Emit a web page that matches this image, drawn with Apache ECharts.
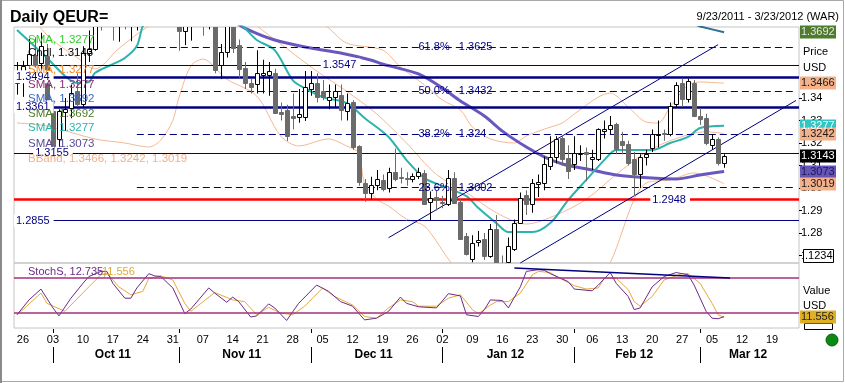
<!DOCTYPE html>
<html><head><meta charset="utf-8">
<script src="https://cdn.jsdelivr.net/npm/echarts@6/dist/echarts.min.js"></script>
<style>html,body{margin:0;padding:0;background:#fff}#c{width:845px;height:383px}</style>
</head><body><div id="c"></div>
<script>
const dates = [
'2011-09-23',
'2011-09-26','2011-09-27','2011-09-28','2011-09-29','2011-09-30',
'2011-10-03','2011-10-04','2011-10-05','2011-10-06','2011-10-07',
'2011-10-10','2011-10-11','2011-10-12','2011-10-13','2011-10-14',
'2011-10-17','2011-10-18','2011-10-19','2011-10-20','2011-10-21',
'2011-10-24','2011-10-25','2011-10-26','2011-10-27','2011-10-28',
'2011-10-31','2011-11-01','2011-11-02','2011-11-03','2011-11-04',
'2011-11-07','2011-11-08','2011-11-09','2011-11-10','2011-11-11',
'2011-11-14','2011-11-15','2011-11-16','2011-11-17','2011-11-18',
'2011-11-21','2011-11-22','2011-11-23','2011-11-24','2011-11-25',
'2011-11-28','2011-11-29','2011-11-30','2011-12-01','2011-12-02',
'2011-12-05','2011-12-06','2011-12-07','2011-12-08','2011-12-09',
'2011-12-12','2011-12-13','2011-12-14','2011-12-15','2011-12-16',
'2011-12-19','2011-12-20','2011-12-21','2011-12-22','2011-12-23',
'2011-12-26','2011-12-27','2011-12-28','2011-12-29','2011-12-30',
'2012-01-02','2012-01-03','2012-01-04','2012-01-05','2012-01-06',
'2012-01-09','2012-01-10','2012-01-11','2012-01-12','2012-01-13',
'2012-01-16','2012-01-17','2012-01-18','2012-01-19','2012-01-20',
'2012-01-23','2012-01-24','2012-01-25','2012-01-26','2012-01-27',
'2012-01-30','2012-01-31','2012-02-01','2012-02-02','2012-02-03',
'2012-02-06','2012-02-07','2012-02-08','2012-02-09','2012-02-10',
'2012-02-13','2012-02-14','2012-02-15','2012-02-16','2012-02-17',
'2012-02-20','2012-02-21','2012-02-22','2012-02-23','2012-02-24',
'2012-02-27','2012-02-28','2012-02-29','2012-03-01','2012-03-02',
'2012-03-05','2012-03-06','2012-03-07','2012-03-08','2012-03-09',
'2012-03-12','2012-03-13','2012-03-14','2012-03-15','2012-03-16',
'2012-03-19','2012-03-20','2012-03-21','2012-03-22','2012-03-23'
];

const opens = [1.3465,1.3512,1.3547,1.3592,1.3557,1.3587,1.3342,1.3218,1.3340,1.3357,
1.3431,1.3373,1.3601,1.3620,1.3796,1.3765,1.3875,1.3738,1.3766,1.3720,
1.3777,1.3894,1.3931,1.3904,1.3906,1.4164,1.4140,1.3852,1.3700,1.3755,
1.3811,1.3788,1.3764,1.3817,1.3547,1.3604,1.3752,1.3634,1.3535,1.3468,
1.3462,1.3502,1.3502,1.3512,1.3339,1.3347,1.3318,1.3316,1.3316,1.3440,
1.3466,1.3433,1.3390,1.3406,1.3413,1.3344,1.3384,1.3187,1.3024,1.2979,
1.3013,1.3036,1.2999,1.3073,1.3048,1.3046,1.3042,1.3052,1.3068,1.2938,
1.2960,1.2940,1.2929,1.3046,1.2938,1.2787,1.2685,1.2760,1.2773,1.2698,
1.2818,1.2668,1.2670,1.2729,1.2846,1.2968,1.2929,1.3020,1.3024,1.3100,
1.3140,1.3224,1.3132,1.3107,1.3150,1.3158,1.3130,1.3130,1.3255,1.3261,
1.3284,1.3207,1.3196,1.3129,1.3062,1.3136,1.3179,1.3240,1.3244,1.3239,
1.3372,1.3465,1.3397,1.3465,1.3322,1.3313,1.3190,1.3216,1.3110];

const highs = [1.3560,1.3565,1.3662,1.3670,1.3690,1.3640,1.3390,1.3350,1.3400,1.3460,
1.3510,1.3630,1.3700,1.3845,1.3810,1.3890,1.3915,1.3820,1.3865,1.3800,
1.3905,1.3955,1.3960,1.3965,1.4245,1.4200,1.4190,1.3870,1.3800,1.3870,
1.3850,1.3800,1.3850,1.3850,1.3640,1.3780,1.3760,1.3660,1.3560,1.3487,
1.3612,1.3570,1.3560,1.3530,1.3380,1.3370,1.3420,1.3440,1.3520,1.3520,
1.3510,1.3480,1.3460,1.3460,1.3460,1.3420,1.3390,1.3190,1.3040,1.3050,
1.3080,1.3060,1.3090,1.3175,1.3090,1.3070,1.3065,1.3090,1.3080,1.2985,
1.2990,1.2965,1.3080,1.3070,1.2950,1.2800,1.2790,1.2809,1.2800,1.2840,
1.2880,1.2700,1.2780,1.2860,1.2980,1.2990,1.3040,1.3060,1.3140,1.3230,
1.3230,1.3235,1.3190,1.3230,1.3190,1.3180,1.3170,1.3265,1.3300,1.3320,
1.3290,1.3250,1.3210,1.3160,1.3150,1.3170,1.3260,1.3300,1.3260,1.3380,
1.3470,1.3486,1.3486,1.3480,1.3355,1.3330,1.3240,1.3225,1.3150];

const lows = [1.3415,1.3405,1.3530,1.3535,1.3520,1.3365,1.3160,1.3146,1.3255,1.3310,
1.3360,1.3360,1.3560,1.3610,1.3700,1.3735,1.3655,1.3650,1.3705,1.3652,
1.3700,1.3850,1.3837,1.3817,1.3900,1.4082,1.3844,1.3610,1.3635,1.3655,
1.3740,1.3677,1.3705,1.3510,1.3484,1.3580,1.3600,1.3490,1.3440,1.3420,
1.3420,1.3420,1.3410,1.3330,1.3300,1.3209,1.3260,1.3290,1.3298,1.3410,
1.3380,1.3390,1.3350,1.3360,1.3300,1.3300,1.3170,1.3010,1.2939,1.2950,
1.2990,1.2985,1.2980,1.3030,1.3020,1.3010,1.3025,1.3040,1.2925,1.2858,
1.2900,1.2910,1.2920,1.2930,1.2770,1.2700,1.2670,1.2740,1.2680,1.2690,
1.2624,1.2625,1.2660,1.2720,1.2840,1.2880,1.2890,1.2960,1.2990,1.3080,
1.3110,1.3100,1.3040,1.3080,1.3120,1.3030,1.3080,1.3120,1.3220,1.3240,
1.3150,1.3150,1.3100,1.2964,1.3000,1.3100,1.3160,1.3180,1.3210,1.3230,
1.3360,1.3360,1.3380,1.3315,1.3280,1.3190,1.3170,1.3100,1.3090];

const closes = [1.3500,1.3542,1.3596,1.3548,1.3631,1.3373,1.3173,1.3342,1.3350,1.3424,
1.3373,1.3601,1.3620,1.3796,1.3765,1.3875,1.3738,1.3766,1.3720,1.3777,
1.3894,1.3931,1.3904,1.3906,1.4164,1.4140,1.3852,1.3700,1.3755,1.3811,
1.3788,1.3764,1.3817,1.3524,1.3604,1.3752,1.3624,1.3530,1.3468,1.3448,
1.3510,1.3510,1.3520,1.3332,1.3329,1.3231,1.3310,1.3329,1.3449,1.3467,
1.3404,1.3405,1.3405,1.3432,1.3347,1.3378,1.3184,1.3028,1.2976,1.3013,
1.3040,1.2995,1.3073,1.3039,1.3044,1.3040,1.3052,1.3070,1.2929,1.2955,
1.2948,1.2935,1.3046,1.2935,1.2773,1.2707,1.2757,1.2768,1.2698,1.2818,
1.2660,1.2666,1.2742,1.2846,1.2957,1.2929,1.3024,1.3028,1.3107,1.3140,
1.3216,1.3128,1.3076,1.3157,1.3157,1.3150,1.3137,1.3261,1.3264,1.3280,
1.3173,1.3192,1.3111,1.3062,1.3136,1.3151,1.3240,1.3242,1.3238,1.3364,
1.3456,1.3397,1.3474,1.3320,1.3307,1.3199,1.3216,1.3110,1.3143];

// moving averages: [day index, price]
const smaTeal = [[0,1.3702],[5,1.3578],[8,1.3498],[10,1.3467],[12,1.3471],[13,1.3511],[16,1.3551],[18,1.3578],[20,1.3631],[21,1.3720],[23,1.3800],[27,1.3870],[32,1.3850],[36,1.3760],[38,1.3711],[40,1.3658],[43,1.3613],[46,1.3480],[48,1.3444],[51,1.3404],[55,1.3378],[58,1.3311],[62,1.3227],[65,1.3124],[68,1.3044],[71,1.3009],[75,1.2964],[77,1.2911],[80,1.2844],[82,1.2804],[86,1.2804],[89,1.2844],[92,1.2947],[95,1.3036],[98,1.3124],[100,1.3169],[103,1.3169],[106,1.3169],[109,1.3200],[112,1.3227],[114,1.3267],[118,1.3277]];
const smaPurple = [[0,1.4050],[15,1.3950],[30,1.3850],[36,1.3745],[38,1.3711],[43,1.3658],[49,1.3622],[54,1.3600],[59,1.3569],[61,1.3551],[67,1.3507],[71,1.3444],[74,1.3387],[78,1.3320],[81,1.3253],[85,1.3182],[88,1.3138],[91,1.3107],[96,1.3080],[100,1.3058],[106,1.3044],[110,1.3040],[114,1.3058],[118,1.3073]];
const smaLong = [[112,1.3740],[114,1.3718],[116,1.3705],[118,1.3692]];
const bbUpper = [[0,1.4200],[20,1.4000],[35,1.4000],[45,1.3850],[52,1.3711],[55,1.3644],[61,1.3613],[64,1.3538],[68,1.3458],[71,1.3391],[74,1.3347],[76,1.3271],[79,1.3218],[83,1.3200],[85,1.3231],[88,1.3262],[91,1.3289],[93,1.3329],[97,1.3404],[99,1.3422],[102,1.3360],[105,1.3293],[107,1.3289],[109,1.3360],[112,1.3458],[114,1.3471],[118,1.3466]];
const bbMiddle = [[0,1.3850],[5,1.3680],[10,1.3580],[13,1.3529],[17,1.3620],[22,1.3720],[30,1.3830],[38,1.3760],[41,1.3700],[45,1.3620],[50,1.3520],[55,1.3430],[60,1.3330],[65,1.3200],[70,1.3060],[75,1.2980],[80,1.2890],[85,1.2840],[90,1.2880],[95,1.2950],[100,1.3060],[105,1.3160],[110,1.3220],[115,1.3250],[118,1.3242]];
const bbLower = [[0,1.3289],[5,1.3276],[13,1.3218],[18,1.3200],[22,1.3182],[24,1.3213],[26,1.3300],[27,1.3400],[29,1.3542],[31,1.3573],[35,1.3484],[40,1.3409],[44,1.3231],[47,1.3187],[52,1.3218],[55,1.3187],[57,1.3156],[58,1.3022],[60,1.2951],[62,1.2920],[65,1.2862],[68,1.2831],[72,1.2684],[76,1.2550],[85,1.2500],[95,1.2500],[99,1.2667],[103,1.2951],[105,1.3022],[109,1.3036],[113,1.3067],[118,1.3019]];

// stochastics: [day index, value]
const stochK = [[0,16],[2,42],[4,61],[6,28],[7,14],[9,45],[11,71],[12,83],[14,92],[15,92],[16,71],[18,45],[19,45],[20,63],[22,88],[23,84],[24,83],[26,63],[28,18],[29,26],[32,63],[33,54],[35,38],[36,47],[37,39],[39,12],[40,14],[42,35],[43,28],[45,6],[47,36],[50,68],[52,57],[54,39],[56,31],[58,7],[60,10],[62,22],[64,47],[65,36],[67,30],[70,28],[72,53],[74,49],[75,16],[77,13],[78,25],[79,42],[81,41],[82,28],[84,65],[85,92],[87,95],[88,94],[89,88],[92,74],[93,61],[96,58],[97,68],[99,90],[100,71],[102,48],[103,25],[104,28],[106,65],[108,83],[110,90],[112,86],[113,68],[115,22],[116,10],[117,9],[118,12.735]];
const stochD = [[0,16],[1,25],[4,54],[5,36],[8,22],[9,33],[12,65],[14,86],[15,89],[17,65],[19,51],[21,57],[22,80],[24,84],[26,77],[28,36],[29,22],[33,55],[36,42],[38,39],[40,16],[42,29],[44,19],[46,16],[48,31],[51,63],[53,48],[56,33],[58,13],[60,10],[62,28],[64,42],[66,39],[67,31],[70,31],[72,45],[74,51],[76,25],[77,18],[79,33],[80,39],[82,39],[84,54],[86,86],[87,92],[89,90],[90,83],[93,67],[95,61],[97,63],[98,80],[100,80],[102,60],[103,39],[104,31],[106,48],[108,77],[111,88],[112,88],[114,71],[116,36],[117,16],[118,11.556]];
const stochLevels = [80, 20];
const stochTrend = [[83,98],[119,80.5]];

// levels
const solidLevels = [1.3547, 1.3494, 1.3361, 1.3155, 1.2855];
const redLevel = 1.2948;
const fibLevels = [1.3625, 1.3432, 1.324, 1.3002];
const fibNames = ['61.8%', '50.0%', '38.2%', '23.6%'];
const channelUpper = [[62,1.2779],[117,1.3637]];
const channelLower = [[84,1.2667],[130,1.3389]];
const priceTicks = [1.27,1.28,1.29,1.30,1.31,1.32,1.33,1.34];
const priceTags = [1.3692, 1.3466, 1.3277, 1.3242, 1.3143, 1.3073, 1.3019];
const stochTag = 11.556;
const legendItems = ['SMA, 1.3277','Cndl, 1.3143','SMA, 1.3277','SMA, 1.3277','SMA, 1.3692','SMA, 1.3692','SMA, 1.3277','SMA, 1.3073','BBand, 1.3466, 1.3242, 1.3019'];

const FONT = 'Liberation Sans, Arial, sans-serif';
const NAVY = '#000080';
const xy = arr => arr.map(p => [dates[p[0]], p[1]]);

const thick = {1.3494:2.5, 1.3361:2.5};
const mlData = [];
solidLevels.forEach(v => mlData.push({yAxis:v, lineStyle:{color:NAVY, width: thick[v]||1, type:'solid'}}));
mlData.push({yAxis:redLevel, lineStyle:{color:'#ff0000', width:2.5, type:'solid'}});
fibLevels.forEach(v => mlData.push([{coord:[dates[20], v], lineStyle:{color:NAVY, width:1, type:[7,4]}},{coord:[dates[130], v]}]));
[channelUpper, channelLower].forEach(c => mlData.push([{coord:[dates[c[0][0]], c[0][1]], lineStyle:{color:NAVY, width:1, type:'solid'}},{coord:[dates[c[1][0]], c[1][1]]}]));

const chart = echarts.init(document.getElementById('c'));
const isMon = v => new Date(v+'T00:00:00Z').getUTCDay() === 1;

function renderCandle(params, api){
  const i = api.value(0), o = api.value(1), c = api.value(2), l = api.value(3), h = api.value(4);
  const pO = api.coord([i,o]), pC = api.coord([i,c]), pH = api.coord([i,h]), pL = api.coord([i,l]);
  const x = Math.round(pO[0]) + 0.5;
  const up = c >= o;
  const top = Math.round(Math.min(pO[1],pC[1])) + 0.5, bot = Math.round(Math.max(pO[1],pC[1])) + 0.5;
  const stroke = up ? '#000000' : '#6b6b6b', fill = up ? '#ffffff' : '#6b6b6b';
  return {type:'group', children:[
    {type:'line', shape:{x1:x, y1:pH[1], x2:x, y2:pL[1]}, style:{stroke, lineWidth:1}},
    {type:'rect', shape:{x:x-2, y:top, width:4, height:Math.max(bot-top,1)}, style:{fill, stroke, lineWidth:1}}
  ]};
}

chart.setOption({
  animation:false,
  backgroundColor:'#fff',
  grid:[
    {left:14, top:27, width:785, height:236, show:true, borderColor:'#c4c4c4', borderWidth:1, backgroundColor:'transparent'},
    {left:14, top:263, width:785, height:65, show:true, borderColor:'#c4c4c4', borderWidth:1, backgroundColor:'transparent'}
  ],
  xAxis:[
    {type:'category', data:dates, gridIndex:0, boundaryGap:true, axisLine:{show:false}, axisTick:{show:false}, axisLabel:{show:false}, splitLine:{show:false}},
    {type:'category', data:dates, gridIndex:1, boundaryGap:true, axisLine:{show:false}, axisTick:{show:false}, splitLine:{show:false},
     axisLabel:{show:true, interval:(i,v)=>isMon(v), formatter:v=>v.slice(8), fontSize:11, fontFamily:FONT, color:'#000', margin:6}}
  ],
  yAxis:[
    {type:'value', gridIndex:0, position:'right', min:1.26667, max:1.37156, splitLine:{show:false}, axisLine:{show:false},
     axisTick:{show:true, customValues:priceTicks, length:3, lineStyle:{color:'#000'}},
     axisLabel:{show:true, customValues:priceTicks, formatter:v=>v.toFixed(2), fontSize:11, fontFamily:FONT, color:'#000', margin:2}},
    {type:'value', gridIndex:1, position:'right', min:-7.2, max:106.7, splitLine:{show:false}, axisLine:{show:false}, axisTick:{show:false}, axisLabel:{show:false}}
  ],
  series:[
    {type:'line', name:'levels', xAxisIndex:0, yAxisIndex:0, data:[], z:1, silent:true,
     markLine:{silent:true, precision:4, symbol:['none','none'], label:{show:false}, animation:false, data:mlData}},
    {type:'line', name:'BBU', xAxisIndex:0, yAxisIndex:0, data:xy(bbUpper), symbol:'none', smooth:0.3, lineStyle:{color:'#f3b893', width:1}, z:2},
    {type:'line', name:'BBM', xAxisIndex:0, yAxisIndex:0, data:xy(bbMiddle), symbol:'none', smooth:0.3, lineStyle:{color:'#f3b893', width:1}, z:2},
    {type:'line', name:'BBL', xAxisIndex:0, yAxisIndex:0, data:xy(bbLower), symbol:'none', smooth:0.3, lineStyle:{color:'#f3b893', width:1}, z:2},
    {type:'line', name:'SMA purple', xAxisIndex:0, yAxisIndex:0, data:xy(smaPurple), symbol:'none', smooth:0.3, lineStyle:{color:'#6957bf', width:3}, z:3},
    {type:'line', name:'SMA long', xAxisIndex:0, yAxisIndex:0, data:xy(smaLong), symbol:'none', lineStyle:{color:'#2f6f8f', width:2}, z:3},
    {type:'line', name:'SMA teal', xAxisIndex:0, yAxisIndex:0, data:xy(smaTeal), symbol:'none', smooth:0.3, lineStyle:{color:'#2bb3ad', width:2}, z:4},
    {type:'custom', name:'Cndl', xAxisIndex:0, yAxisIndex:0, clip:true, z:5,
     data: opens.map((o,i)=>[i, o, closes[i], lows[i], highs[i]]),
     encode:{x:0, y:[1,2,3,4]}, renderItem:renderCandle},
    {type:'line', name:'stochLevels', xAxisIndex:1, yAxisIndex:1, data:[], silent:true,
     markLine:{silent:true, precision:4, symbol:['none','none'], label:{show:false}, animation:false,
       data:[...stochLevels.map(v=>({yAxis:v, lineStyle:{color:'#a3317d', width:1.5, type:'solid'}})),
             [{coord:[dates[stochTrend[0][0]], stochTrend[0][1]], lineStyle:{color:NAVY, width:1.5, type:'solid'}},{coord:[dates[stochTrend[1][0]], stochTrend[1][1]]}]]}},
    {type:'line', name:'%D', xAxisIndex:1, yAxisIndex:1, data:xy(stochD), symbol:'none', lineStyle:{color:'#e8a83a', width:1}, z:3},
    {type:'line', name:'%K', xAxisIndex:1, yAxisIndex:1, data:xy(stochK), symbol:'none', lineStyle:{color:'#6b2a88', width:1}, z:4}
  ]
});

// ---- overlay texts placed through the chart's own conversion ----
const py = v => chart.convertToPixel({yAxisIndex:0}, v);
const sy = v => chart.convertToPixel({yAxisIndex:1}, v);
const px = i => chart.convertToPixel({xAxisIndex:1}, dates[i]);
const g = [];
const txt = (x,y,text,o,z) => g.push({type:'text', z:z||100, style:Object.assign({x, y, text, fill:'#000', font:'11px '+FONT, align:'left', verticalAlign:'middle'}, o||{})});

// frame
g.push({type:'rect', z:0, shape:{x:0.5,y:0.5,width:843,height:381}, style:{fill:'none', stroke:'#a8a8a8', lineWidth:1}});
g.push({type:'rect', z:0, shape:{x:0,y:0,width:2,height:383}, style:{fill:'#8a8a8a'}});

txt(10, 18, 'Daily QEUR=', {font:'bold 16px '+FONT});
txt(839, 17, '9/23/2011 - 3/23/2012 (WAR)', {align:'right'});

// legend
const legendColors = ['#33cc33','#000000','#f08c2a','#8a2f75','#3a67c0','#4f7a28','#2bb3ad','#5b4b96','#f0b08a'];
const legendY = [40,53,70,85,99,114,128,144,159];
legendItems.forEach((t,k)=>txt(28, legendY[k], t, {fill:legendColors[k], font:'11.5px '+FONT}));

// level labels
const lvlLabel = (i, v, text, align) => txt(align==='left'? px(i)-3 : px(i), py(v), text,
  {fill:NAVY, align: align||'center', backgroundColor:'#fff', padding:[1,4,1,2]}, 60);
lvlLabel(54, 1.3547, '1.3547');
lvlLabel(0, 1.3494, '1.3494', 'left');
lvlLabel(0, 1.3361, '1.3361', 'left');
lvlLabel(6, 1.3155, '1.3155');
lvlLabel(0, 1.2855, '1.2855', 'left');
lvlLabel(109, redLevel, '1.2948');
fibLevels.forEach((v,k)=>txt(px(67), py(v), fibNames[k]+'   '+v.toString(), {fill:NAVY}, 60));

// right side tags
const tagStyles = [['#4f7b2c','#e6e6e6'],['#f4b18a','#1a1a1a'],['#33c4c4','#ffffff'],['#f4b18a','#1a1a1a'],['#000000','#ffffff'],['#6654b8','#1a1a50'],['#f4b18a','#1a1a1a']];
const tag = (y, text, bg, fg) => {
  g.push({type:'rect', z:110, shape:{x:800, y:Math.round(y)-6.5, width:36, height:13}, style:{fill:bg}});
  txt(801, Math.round(y), text, {fill:fg, font:'11px '+FONT}, 120);
};
priceTags.forEach((v,k)=>tag(py(v), v.toFixed(4), tagStyles[k][0], tagStyles[k][1]));
txt(803, 52, 'Price'); txt(803, 68, 'USD');
g.push({type:'rect', z:110, shape:{x:803.5, y:Math.round(py(1.27))-6.5, width:30, height:13}, style:{fill:'#fff', stroke:'#000', lineWidth:1}});
txt(805, Math.round(py(1.27)), '.1234', null, 120);
txt(803, 291, 'Value'); txt(803, 306, 'USD');
tag(sy(stochTag), stochTag.toFixed(3), '#e0b024', '#222');
g.push({type:'rect', z:105, shape:{x:804.5, y:323.5, width:28, height:6}, style:{fill:'none', stroke:'#000', lineWidth:1}});
g.push({type:'circle', z:110, shape:{cx:832, cy:340, r:6}, style:{fill:'#0a8a14', stroke:'#066010'}});

txt(28, 272, 'StochS, 12.735,', {fill:'#6b2a88'});
txt(102, 272, '11.556', {fill:'#e0a83a'});

// months
const monthName = ['Jan','Feb','Mar','Apr','May','Jun','Jul','Aug','Sep','Oct','Nov','Dec'];
let start = 0;
for (let i=1;i<=dates.length;i++){
  if (i===dates.length || dates[i].slice(0,7)!==dates[i-1].slice(0,7)){
    const first = start, last = i-1;
    if (first>0){
      const x = Math.round(px(first))+0.5;
      g.push({type:'line', z:100, shape:{x1:x,y1:347,x2:x,y2:363}, style:{stroke:'#000', lineWidth:1}});
      g.push({type:'line', z:100, shape:{x1:x,y1:329,x2:x,y2:333}, style:{stroke:'#000', lineWidth:1}});
      const d = dates[first];
      txt((px(first)+px(last))/2, 355, monthName[+d.slice(5,7)-1]+' '+d.slice(2,4), {align:'center', font:'bold 12px '+FONT});
    }
    start = i;
  }
}
chart.setOption({graphic:g});
</script></body></html>
